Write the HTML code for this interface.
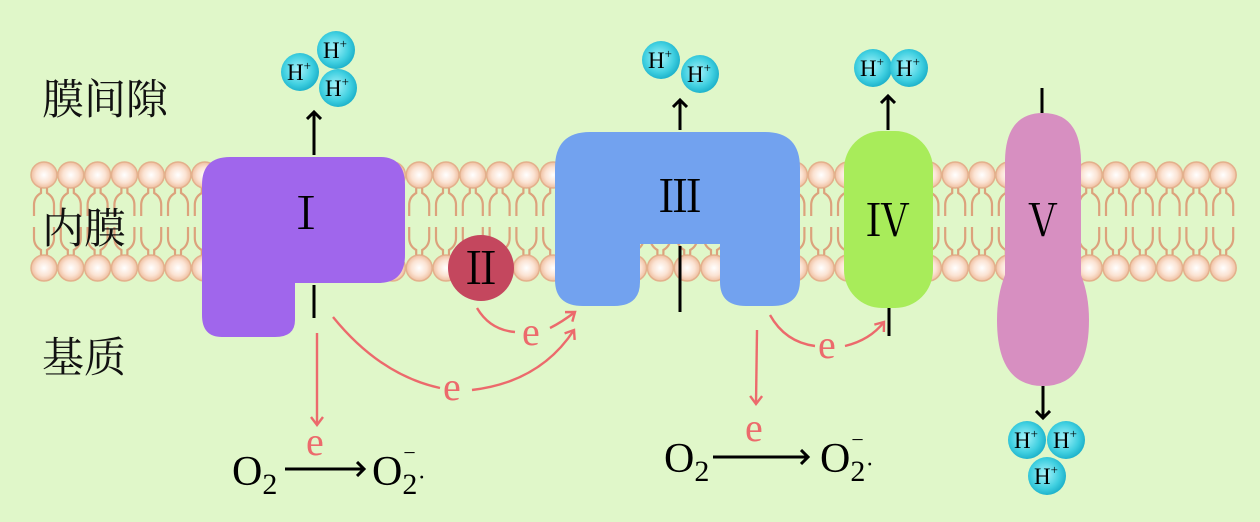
<!DOCTYPE html>
<html><head><meta charset="utf-8"><style>
body{margin:0;background:#e0f7c9;}
svg{display:block}
text{font-family:"Liberation Serif","Noto Serif CJK SC",serif;}
.rn{font-family:"Noto Serif CJK SC","Liberation Serif",serif;}
</style></head><body>
<svg id="s" width="1260" height="522" viewBox="0 0 1260 522" xmlns="http://www.w3.org/2000/svg">
<defs>
<radialGradient id="hd" cx="0.5" cy="0.5" r="0.5"><stop offset="0" stop-color="#fff"/><stop offset="0.6" stop-color="#fbe3d3"/><stop offset="1" stop-color="#efbfa0"/></radialGradient>
<radialGradient id="hp" cx="0.45" cy="0.45" r="0.55"><stop offset="0" stop-color="#a8f4fb"/><stop offset="0.7" stop-color="#3fcfe0"/><stop offset="1" stop-color="#1fb3cc"/></radialGradient>
<marker id="ab" markerWidth="16" markerHeight="16" refX="8" refY="8" orient="auto" markerUnits="userSpaceOnUse"><path d="M1,1 L8,8 L1,15" fill="none" stroke="#000" stroke-width="3"/></marker>
<marker id="ar" markerWidth="14" markerHeight="14" refX="9" refY="7" orient="auto" markerUnits="userSpaceOnUse"><path d="M1,1 L9,7 L1,13" fill="none" stroke="#ec6a6c" stroke-width="2.4"/></marker>
</defs>
<rect width="1260" height="522" fill="#e0f7c9"/>
<g id="mem"></g>
<g font-size="42" fill="#111">
<text x="42" y="114">膜间隙</text>
<text x="42" y="243">内膜</text>
<text x="42" y="372">基质</text>
</g>
<!-- I -->
<path d="M230,157 L380,157 Q405,157 405,185 L405,255 Q405,283 378,283 L295,283 L295,320 Q295,337 275,337 L222,337 Q202,337 202,315 L202,185 Q202,157 230,157Z" fill="#a066ec"/>
<text class="rn" x="306" y="229" font-size="44" text-anchor="middle">Ⅰ</text>
<line x1="314" y1="155" x2="314" y2="112" stroke="#000" stroke-width="3" marker-end="url(#ab)"/>
<line x1="314" y1="285" x2="314" y2="318" stroke="#000" stroke-width="3"/>
<!-- II -->
<circle cx="481" cy="268" r="33" fill="#c4475e"/>
<text class="rn" x="481" y="284" font-size="44" text-anchor="middle">Ⅱ</text>
<!-- III -->
<path d="M590,132 L765,132 Q800,132 800,168 L800,280 Q800,306 772,306 L746,306 Q720,306 720,282 L720,244 L640,244 L640,282 Q640,306 614,306 L583,306 Q555,306 555,280 L555,168 Q555,132 590,132Z" fill="#72a2ef"/>
<text class="rn" x="680" y="212" font-size="44" text-anchor="middle">Ⅲ</text>
<line x1="680" y1="130" x2="680" y2="100" stroke="#000" stroke-width="3" marker-end="url(#ab)"/>
<line x1="680" y1="246" x2="680" y2="312" stroke="#000" stroke-width="3"/>
<!-- IV -->
<rect x="844" y="131" width="89" height="177" rx="38" fill="#a8ec5a"/>
<text class="rn" x="888" y="236" font-size="44" text-anchor="middle">Ⅳ</text>
<line x1="888" y1="130" x2="888" y2="96" stroke="#000" stroke-width="3" marker-end="url(#ab)"/>
<line x1="889" y1="308" x2="889" y2="336" stroke="#000" stroke-width="3"/>
<!-- V -->
<path d="M1043,113 Q1080,113 1081,160 L1081,275 Q1089,295 1089,320 Q1089,386 1043,386 Q997,386 997,320 Q997,295 1005,275 L1005,160 Q1006,113 1043,113Z" fill="#d78fc1"/>
<text class="rn" x="1043" y="236" font-size="44" text-anchor="middle">Ⅴ</text>
<line x1="1042" y1="88" x2="1042" y2="113" stroke="#000" stroke-width="3"/>
<line x1="1043" y1="386" x2="1043" y2="418" stroke="#000" stroke-width="3" marker-end="url(#ab)"/>
<!-- red electron arrows -->
<g fill="none" stroke="#ec6a6c" stroke-width="2.4">
<line x1="317" y1="333" x2="317" y2="425" marker-end="url(#ar)"/>
<path d="M333,317 Q380,375 440,388"/>
<path d="M472,390 Q540,382 574,330" marker-end="url(#ar)"/>
<path d="M477,308 Q490,330 515,332"/>
<path d="M550,328 Q562,322 575,312" marker-end="url(#ar)"/>
<line x1="757" y1="330" x2="756" y2="404" marker-end="url(#ar)"/>
<path d="M770,315 Q785,342 815,346"/>
<path d="M845,346 Q870,340 884,322" marker-end="url(#ar)"/>
</g>
<g fill="#ec6a6c" font-size="40">
<text x="443" y="400">e</text>
<text x="522" y="345">e</text>
<text x="306" y="455">e</text>
<text x="745" y="441">e</text>
<text x="818" y="358">e</text>
</g>
<!-- O2 reactions -->
<g font-size="42" fill="#000">
<text x="232" y="485">O<tspan font-size="30" dy="9">2</tspan></text>
<text x="372" y="485">O<tspan font-size="30" dy="9">2</tspan><tspan font-size="22" dx="-14" dy="-34">−</tspan><tspan font-size="24" dx="2" dy="25">·</tspan></text>
<text x="664" y="472">O<tspan font-size="30" dy="9">2</tspan></text>
<text x="820" y="472">O<tspan font-size="30" dy="9">2</tspan><tspan font-size="22" dx="-14" dy="-34">−</tspan><tspan font-size="24" dx="2" dy="25">·</tspan></text>
</g>
<line x1="285" y1="469" x2="364" y2="469" stroke="#000" stroke-width="3" marker-end="url(#ab)"/>
<line x1="713" y1="457" x2="808" y2="457" stroke="#000" stroke-width="3" marker-end="url(#ab)"/>
<g id="hs"></g>
</svg>
<script>
var m=document.getElementById('mem'),h="";
for(var i=0;i<45;i++){var x=44+i*26.8;
h+='<circle cx="'+x+'" cy="175" r="13" fill="url(#hd)" stroke="#e3b08c" stroke-width="1.5"/>';
h+='<circle cx="'+x+'" cy="268" r="13" fill="url(#hd)" stroke="#e3b08c" stroke-width="1.5"/>';
h+='<path d="M'+(x-3)+',188 L'+(x-3)+',193 Q'+(x-10)+',197 '+(x-10)+',205 L'+(x-10)+',216 M'+(x+3)+',188 L'+(x+3)+',193 Q'+(x+10)+',197 '+(x+10)+',205 L'+(x+10)+',216 M'+(x-3)+',255 L'+(x-3)+',250 Q'+(x-10)+',246 '+(x-10)+',238 L'+(x-10)+',227 M'+(x+3)+',255 L'+(x+3)+',250 Q'+(x+10)+',246 '+(x+10)+',238 L'+(x+10)+',227" fill="none" stroke="#dca27c" stroke-width="2.2"/>';}
m.innerHTML=h;
var P=[[300,72],[336,50],[338,88],[661,60],[700,74],[873,68],[909,68],[1027,440],[1066,440],[1047,476]],g="";
P.forEach(function(p){g+='<circle cx="'+p[0]+'" cy="'+p[1]+'" r="19" fill="url(#hp)"/><text x="'+(p[0]-13)+'" y="'+(p[1]+8)+'" font-size="23" fill="#000">H<tspan font-size="13" dy="-10">+</tspan></text>';});
document.getElementById('hs').innerHTML=g;
</script>
</body></html>
